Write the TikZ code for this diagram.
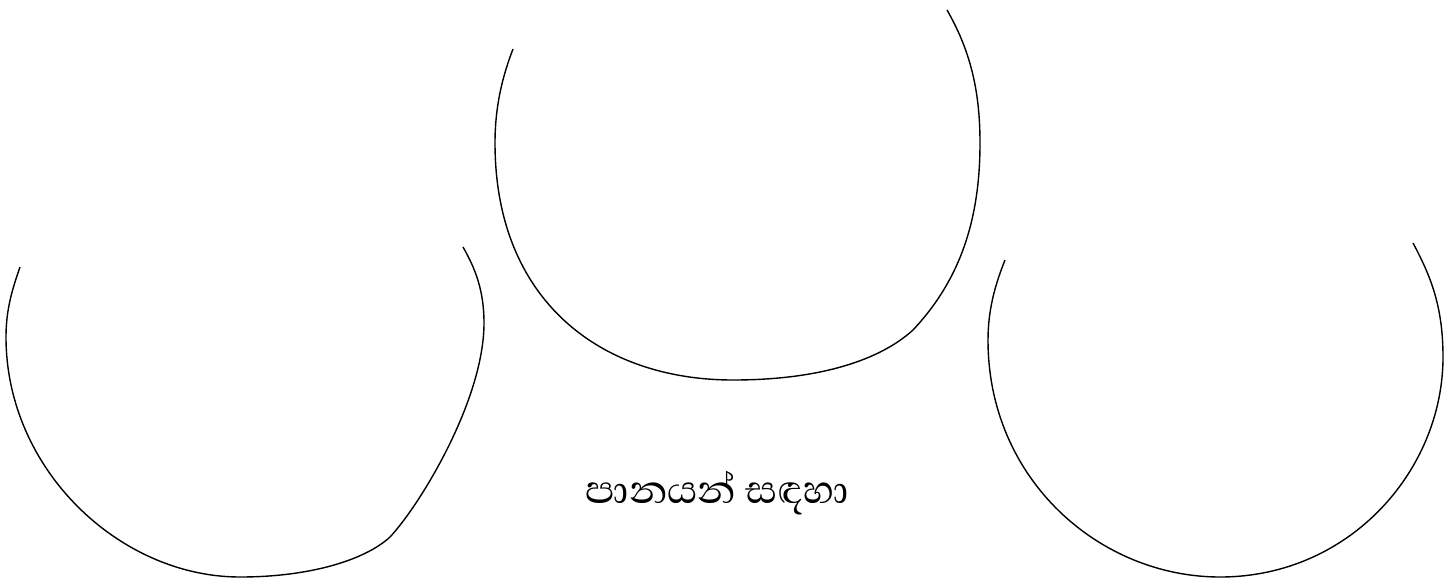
\documentclass[tikz,border=0pt]{standalone}
\usepackage{fontspec}
\newfontfamily\sinhalafont[Script=Sinhala]{Abhaya Libre}
\begin{document}
\begin{tikzpicture}[x=1pt,y=-1pt,
  bowl/.style={draw=black,line width=1.4pt},
  label/.style={font=\sinhalafont\fontsize{50}{60}\selectfont,inner sep=0pt}]
\useasboundingbox (0,0) rectangle (1445,582);
% left bowl
\draw[bowl] (20,267) .. controls (12,290) and (6,310) .. (6,337)
  .. controls (6,470) and (120,577) .. (240,577)
  .. controls (310,577) and (365,560) .. (390,537)
  .. controls (420,505) and (484,400) .. (484,323)
  .. controls (484,290) and (475,268) .. (463,247);
% middle bowl
\draw[bowl] (513,49) .. controls (503,75) and (495,105) .. (495,143)
  .. controls (495,300) and (600,380) .. (733,380)
  .. controls (820,380) and (880,360) .. (913,330)
  .. controls (960,280) and (980,220) .. (980,143)
  .. controls (980,90) and (970,50) .. (947,10);
% right bowl
\draw[bowl] (1005,260) .. controls (995,285) and (988,310) .. (988,340)
  .. controls (988,480) and (1100,577) .. (1220,577)
  .. controls (1350,577) and (1443,470) .. (1443,357)
  .. controls (1443,305) and (1430,275) .. (1413,243);
\node[label] (caption) at (717,493) {පානයන් සඳහා};
\end{tikzpicture}
\end{document}
